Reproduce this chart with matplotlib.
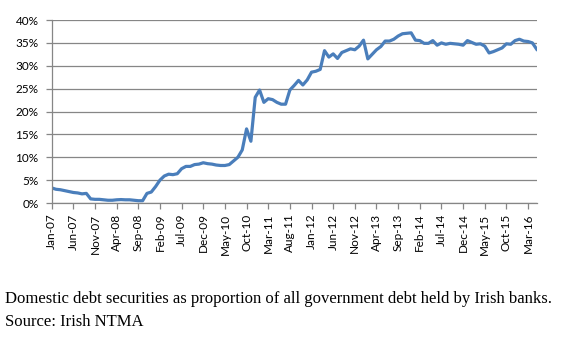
import matplotlib
matplotlib.use('Agg')
import matplotlib.pyplot as plt
from matplotlib.ticker import FuncFormatter

# Share of domestic debt securities (%) - monthly, Jan-07 onwards
valores = [3.3, 3.0, 2.9, 2.7, 2.5, 2.3, 2.2, 2.0, 2.1, 0.9,
           0.8, 0.8, 0.7, 0.6, 0.6, 0.7, 0.75, 0.7, 0.7, 0.6,
           0.5, 0.5, 2.1, 2.4, 3.6, 5.0, 5.9, 6.3, 6.2, 6.4,
           7.5, 8.0, 8.0, 8.4, 8.5, 8.8, 8.6, 8.5, 8.3, 8.2,
           8.2, 8.4, 9.2, 10.0, 11.6, 16.2, 13.5, 23.1, 24.7, 22.0,
           22.8, 22.6, 22.0, 21.6, 21.6, 24.7, 25.7, 26.8, 25.8, 26.9,
           28.6, 28.8, 29.2, 33.3, 31.9, 32.6, 31.6, 32.9, 33.3, 33.7,
           33.5, 34.3, 35.6, 31.5, 32.5, 33.5, 34.2, 35.4, 35.4, 35.8,
           36.5, 37.0, 37.1, 37.2, 35.6, 35.5, 34.9, 34.9, 35.5, 34.5,
           35.0, 34.7, 34.9, 34.8, 34.7, 34.5, 35.5, 35.1, 34.7, 34.8,
           34.3, 32.8, 33.1, 33.5, 33.9, 34.8, 34.7, 35.5, 35.8, 35.4,
           35.3, 35.0, 33.6]

etiquetas = ['Jan-07', 'Jun-07', 'Nov-07', 'Apr-08', 'Sep-08', 'Feb-09', 'Jul-09',
             'Dec-09', 'May-10', 'Oct-10', 'Mar-11', 'Aug-11', 'Jan-12', 'Jun-12',
             'Nov-12', 'Apr-13', 'Sep-13', 'Feb-14', 'Jul-14', 'Dec-14', 'May-15',
             'Oct-15', 'Mar-16']

meses = list(range(len(valores)))
pos_etiquetas = [5 * k for k in range(len(etiquetas))]

fig = plt.figure(figsize=(5.88, 3.64), dpi=100)
ax = fig.add_axes([0.0879, 0.4423, 0.8249, 0.5027])

ax.plot(meses, valores, color='#4A7EBB', linewidth=2.3, solid_joinstyle='round')

ax.set_xlim(0, len(valores) - 1)
ax.set_ylim(0, 40)
ax.set_yticks(range(0, 41, 5))
ax.yaxis.set_major_formatter(FuncFormatter(lambda v, p: f'{int(v)}%'))
ax.set_xticks(pos_etiquetas)
ax.set_xticklabels(etiquetas, rotation=90)

ax.grid(axis='y', color='#868686', linewidth=0.9)
ax.set_axisbelow(True)
for lado in ['top', 'right']:
    ax.spines[lado].set_visible(False)
for lado in ['left', 'bottom']:
    ax.spines[lado].set_color('#868686')
    ax.spines[lado].set_linewidth(0.9)
ax.tick_params(axis='both', colors='#868686', length=4, width=0.9,
               labelcolor='black', labelsize=8.5)
ax.tick_params(axis='y', pad=5.5)
for t in ax.get_xticklabels() + ax.get_yticklabels():
    t.set_family(['Lato', 'DejaVu Sans'])

fig.text(0.008, 0.178, 'Domestic debt securities as proportion of all government debt held by Irish banks.',
         family='Liberation Serif', fontsize=12, va='center')
fig.text(0.008, 0.115, 'Source: Irish NTMA', family='Liberation Serif', fontsize=12, va='center')

fig.savefig('out.png', dpi=100)
